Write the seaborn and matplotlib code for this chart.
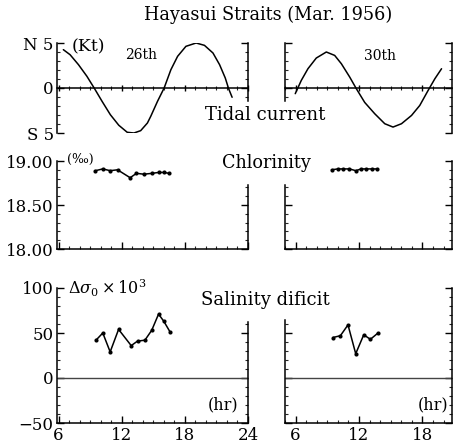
import matplotlib
matplotlib.use("Agg")
import matplotlib.pyplot as plt
import seaborn as sns
from matplotlib.ticker import MultipleLocator, FixedLocator

# ---- data ----
tide26_hr = [6.45, 7.09, 7.89, 8.69, 9.42, 10.13, 10.92, 11.72, 12.52, 13.16, 13.8, 14.44,
             14.76, 15.4, 16.03, 16.67, 17.31, 18.1, 19.07, 19.86, 20.67, 21.3, 21.84, 22.16, 22.49]
tide26_kt = [4.26, 3.7, 2.59, 1.3, -0.08, -1.48, -2.97, -4.14, -4.92, -5.0, -4.74, -3.89,
             -3.14, -1.48, 0.0, 2.03, 3.52, 4.63, 5.0, 4.74, 3.89, 2.59, 1.11, -0.08, -1.03]
tide30_hr = [5.97, 6.54, 7.17, 7.96, 8.91, 9.7, 10.33, 11.12, 11.75, 12.54, 13.49, 14.44,
             15.22, 16.02, 16.97, 17.75, 18.54, 19.18, 19.81]
tide30_kt = [-0.63, 0.84, 2.14, 3.33, 4.0, 3.62, 2.7, 1.22, -0.08, -1.6, -2.86, -3.97,
             -4.34, -3.97, -3.05, -1.94, -0.27, 1.03, 2.14]

chl26_hr = [9.5, 10.2, 10.9, 11.6, 12.8, 13.4, 14.1, 14.9, 15.5, 16.0, 16.5]
chl26 = [18.89, 18.91, 18.89, 18.90, 18.81, 18.86, 18.85, 18.86, 18.87, 18.87, 18.86]
chl30_hr = [9.4, 10.0, 10.5, 11.1, 11.7, 12.2, 12.7, 13.2, 13.7]
chl30 = [18.90, 18.91, 18.91, 18.91, 18.89, 18.91, 18.91, 18.91, 18.91]

sal26_hr = [9.55, 10.2, 10.9, 11.7, 12.9, 13.5, 14.2, 14.85, 15.5, 16.0, 16.6]
sal26 = [42, 50, 29, 54, 36, 41, 42, 53, 71, 63, 51]
sal30_hr = [9.54, 10.24, 10.96, 11.69, 12.45, 13.08, 13.8]
sal30 = [45, 47, 59, 27, 48, 43, 50]

xt_left = [6, 12, 18, 24]
xt_right = [6, 12, 18]

sns.set_style("ticks")
plt.rcParams['font.family'] = ['DejaVu Serif']
plt.rcParams['mathtext.fontset'] = 'dejavuserif'

W, H = 458, 445
fig = plt.figure(figsize=(W / 100, H / 100), dpi=100)

def ax_at(x0, y0, x1, y1):
    return fig.add_axes([x0 / W, 1 - y1 / H, (x1 - x0) / W, (y1 - y0) / H])

LX = (56.5, 248)
RX = (285, 452)
rows = [(43, 133), (161, 249), (288, 423)]
XL_L = (5.8, 24.0)
XL_R = (5.0, 20.8)
FS = 12
col = 'black'

def style(ax, left_labels, xlim, xticks, bottom_labels):
    ax.set_xlim(*xlim)
    ax.xaxis.set_major_locator(FixedLocator(xticks))
    ax.xaxis.set_minor_locator(MultipleLocator(1))
    for s in ax.spines.values():
        s.set_linewidth(1.1)
        s.set_color(col)
    ax.spines['top'].set_visible(False)
    ax.tick_params(axis='both', which='major', direction='in', length=5, width=1.0,
                   labelsize=FS, right=True, left=True, colors=col)
    ax.tick_params(axis='both', which='minor', direction='in', length=2.5, width=0.8,
                   right=True, left=True)
    ax.tick_params(axis='y', labelleft=left_labels, labelright=False, pad=2)
    ax.tick_params(axis='x', labelbottom=bottom_labels, pad=3)
    ax.set_xlabel('')
    ax.set_ylabel('')
    ax.set_facecolor('white')

def cut_spine(ax, side, lo, hi):
    """Shorten a y spine and hide its ticks outside [lo, hi] (as in the scan)."""
    ax.spines[side].set_bounds(lo, hi)
    for getter, locs in ((ax.yaxis.get_major_ticks, ax.yaxis.get_majorticklocs()),
                         (ax.yaxis.get_minor_ticks, ax.yaxis.get_minorticklocs())):
        ticks = getter(len(locs))
        for t, v in zip(ticks, locs):
            if v > hi + 1e-9 or v < lo - 1e-9:
                (t.tick1line if side == 'left' else t.tick2line).set_visible(False)

lw = 1.1
axes = {}
# --- tidal current ---
for (key, xr, hr, kt, xl, lab) in [('t26', LX, tide26_hr, tide26_kt, XL_L, True),
                                   ('t30', RX, tide30_hr, tide30_kt, XL_R, False)]:
    ax = ax_at(xr[0], rows[0][0], xr[1], rows[0][1])
    sns.lineplot(x=hr, y=kt, ax=ax, color=col, lw=lw, sort=False)
    ax.set_ylim(-5, 5)
    style(ax, lab, xl, xt_left if lab else xt_right, False)
    ax.spines['bottom'].set_position(('data', 0))
    ax.tick_params(axis='x', which='both', direction='inout')
    ax.yaxis.set_major_locator(FixedLocator([-5, 0, 5]))
    ax.set_yticklabels(['S 5', '0', 'N 5'])
    ax.yaxis.set_minor_locator(MultipleLocator(1))
    axes[key] = ax

# --- chlorinity ---
for (key, xr, hr, v, xl, lab) in [('c26', LX, chl26_hr, chl26, XL_L, True),
                                  ('c30', RX, chl30_hr, chl30, XL_R, False)]:
    ax = ax_at(xr[0], rows[1][0], xr[1], rows[1][1])
    sns.lineplot(x=hr, y=v, ax=ax, color=col, lw=lw, marker='o', markersize=3,
                 markeredgewidth=0, sort=False)
    ax.set_ylim(18.0, 19.0)
    style(ax, lab, xl, xt_left if lab else xt_right, False)
    ax.yaxis.set_major_locator(FixedLocator([18.0, 18.5, 19.0]))
    ax.set_yticklabels(['18.00', '18.50', '19.00'])
    ax.yaxis.set_minor_locator(MultipleLocator(0.1))
    axes[key] = ax

# --- salinity deficit ---
for (key, xr, hr, v, xl, lab) in [('s26', LX, sal26_hr, sal26, XL_L, True),
                                  ('s30', RX, sal30_hr, sal30, XL_R, False)]:
    ax = ax_at(xr[0], rows[2][0], xr[1], rows[2][1])
    sns.lineplot(x=hr, y=v, ax=ax, color=col, lw=lw, marker='o', markersize=3,
                 markeredgewidth=0, sort=False)
    ax.axhline(0, color='#444444', lw=1.0)
    ax.set_ylim(-50, 100)
    xt = xt_left if lab else xt_right
    style(ax, lab, xl, xt, True)
    ax.yaxis.set_major_locator(FixedLocator([-50, 0, 50, 100]))
    ax.set_yticklabels(['\u221250', '0', '50', '100'])
    ax.yaxis.set_minor_locator(MultipleLocator(10))
    ax.set_xticklabels([str(t) for t in xt])
    axes[key] = ax

# spines interrupted by the centre labels, as in the scan
cut_spine(axes['t26'], 'right', -1.4, 5)
cut_spine(axes['t30'], 'left', -1.4, 5)
cut_spine(axes['c26'], 'right', 18.0, 18.73)
cut_spine(axes['c30'], 'left', 18.0, 18.73)
cut_spine(axes['s26'], 'right', -50, 62)
cut_spine(axes['s30'], 'left', -50, 64)

def ftext(x, y, s, ha='center', fs=FS, **kw):
    fig.text(x / W, 1 - y / H, s, ha=ha, va='center', fontsize=fs, color=col, **kw)

ftext(268, 15, 'Hayasui Straits (Mar. 1956)', fs=12.7)
ftext(72, 47, '(Kt)', ha='left', fs=12.5)
ftext(141, 55, '26th', fs=10)
ftext(380, 56, '30th', fs=10)
ftext(265, 115, 'Tidal current', fs=13)
ftext(266, 163, 'Chlorinity', fs=12.7)
ftext(67, 159, '(\u2030)', ha='left', fs=9)
ftext(68, 288, r'$\Delta\sigma_0\times10^3$', ha='left', fs=11.5)
ftext(265, 300, 'Salinity dificit', fs=13)
ftext(223, 405, '(hr)', fs=11.5)
ftext(433, 405, '(hr)', fs=11.5)

fig.savefig('out.png', dpi=100, facecolor='white')
